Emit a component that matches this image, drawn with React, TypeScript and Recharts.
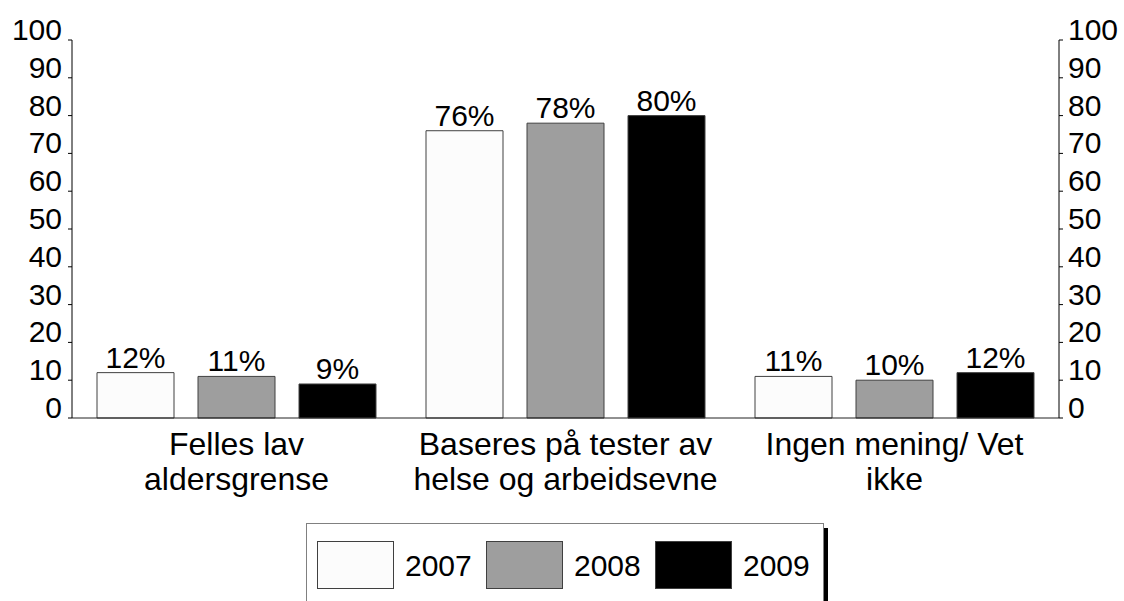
import { ComposedChart, Bar, Line, XAxis, YAxis, LabelList } from "recharts";

const categoryLines: string[][] = [
  ["Felles lav", "aldersgrense"],
  ["Baseres på tester av", "helse og arbeidsevne"],
  ["Ingen mening/ Vet", "ikke"],
];
const years = ["2007", "2008", "2009"];
const values2007 = [12, 76, 11];
const values2008 = [11, 78, 10];
const values2009 = [9, 80, 12];
const yTicks = [0, 10, 20, 30, 40, 50, 60, 70, 80, 90, 100];

const FONT = '"Liberation Sans", Arial, sans-serif';
const fills = ["#fcfcfc", "#9e9e9e", "#000000"];

const data = categoryLines.map((lines, i) => ({
  name: lines.join(" "),
  lines,
  y2007: values2007[i],
  y2008: values2008[i],
  y2009: values2009[i],
}));

const LeftTick = (props: any) => {
  const { x, y, payload } = props;
  return (
    <text x={x} y={y} textAnchor="end" fontSize={30} fill="#000" fontFamily={FONT}>
      {payload.value}
    </text>
  );
};

const RightTick = (props: any) => {
  const { x, y, payload } = props;
  return (
    <text x={x} y={y} textAnchor="start" fontSize={30} fill="#000" fontFamily={FONT}>
      {payload.value}
    </text>
  );
};

const CategoryTick = (props: any) => {
  const { x, y, index } = props;
  const lines = categoryLines[index] || [];
  return (
    <text textAnchor="middle" fontSize={32} fill="#000" fontFamily={FONT}>
      {lines.map((l, i) => (
        <tspan key={i} x={x} y={y + 37 + i * 35}>
          {l}
        </tspan>
      ))}
    </text>
  );
};

const keys = ["y2007", "y2008", "y2009"];

export default function App() {
  return (
    <div
      style={{
        position: "absolute",
        left: 0,
        top: 0,
        width: 1124,
        height: 601,
        overflow: "hidden",
        background: "#fff",
      }}
    >
      <ComposedChart
        width={1124}
        height={601}
        data={data}
        margin={{ top: 40, right: 0, bottom: 0, left: 0 }}
        barSize={77}
        barGap={24}
      >
        <XAxis
          dataKey="name"
          height={183}
          tickLine={false}
          tickSize={0}
          tickMargin={0}
          axisLine={{ stroke: "#222" }}
          tick={<CategoryTick />}
          interval={0}
        />
        <YAxis
          yAxisId="left"
          orientation="left"
          width={72}
          domain={[0, 100]}
          ticks={yTicks}
          interval={0}
          tickSize={4}
          tickMargin={6}
          axisLine={{ stroke: "#000" }}
          tickLine={{ stroke: "#000" }}
          tick={<LeftTick />}
        />
        <YAxis
          yAxisId="right"
          orientation="right"
          width={65}
          domain={[0, 100]}
          ticks={yTicks}
          interval={0}
          tickSize={4}
          tickMargin={5}
          axisLine={{ stroke: "#000" }}
          tickLine={{ stroke: "#000" }}
          tick={<RightTick />}
        />
        {keys.map((k, i) => (
          <Bar
            key={k}
            yAxisId="left"
            dataKey={k}
            fill={fills[i]}
            stroke="#404040"
            strokeWidth={1}
            isAnimationActive={false}
          >
            <LabelList
              dataKey={k}
              position="top"
              offset={5}
              formatter={(v: any) => `${v}%`}
              style={{ fontSize: 30, fill: "#000", fontFamily: FONT }}
            />
          </Bar>
        ))}
        {/* invisible series so the right axis gets its ticks */}
        <Line
          yAxisId="right"
          dataKey="y2009"
          stroke="none"
          dot={false}
          activeDot={false}
          legendType="none"
          isAnimationActive={false}
        />
      </ComposedChart>
      <div
        style={{
          position: "absolute",
          left: 306,
          top: 523,
          width: 518,
          height: 120,
          border: "1px solid #808080",
          boxSizing: "border-box",
        }}
      >
        <div
          style={{
            position: "absolute",
            right: -5,
            top: 4,
            width: 4,
            height: 120,
            background: "#000",
          }}
        />
        {years.map((y, i) => (
          <div key={y}>
            <div
              style={{
                position: "absolute",
                left: 10 + i * 169,
                top: 17,
                width: 77,
                height: 48,
                background: fills[i],
                border: "1px solid #404040",
                boxSizing: "border-box",
              }}
            />
            <div
              style={{
                position: "absolute",
                left: 98 + i * 169,
                top: 22,
                fontSize: 30,
                lineHeight: "40px",
                fontFamily: FONT,
                color: "#000",
              }}
            >
              {y}
            </div>
          </div>
        ))}
      </div>
    </div>
  );
}
